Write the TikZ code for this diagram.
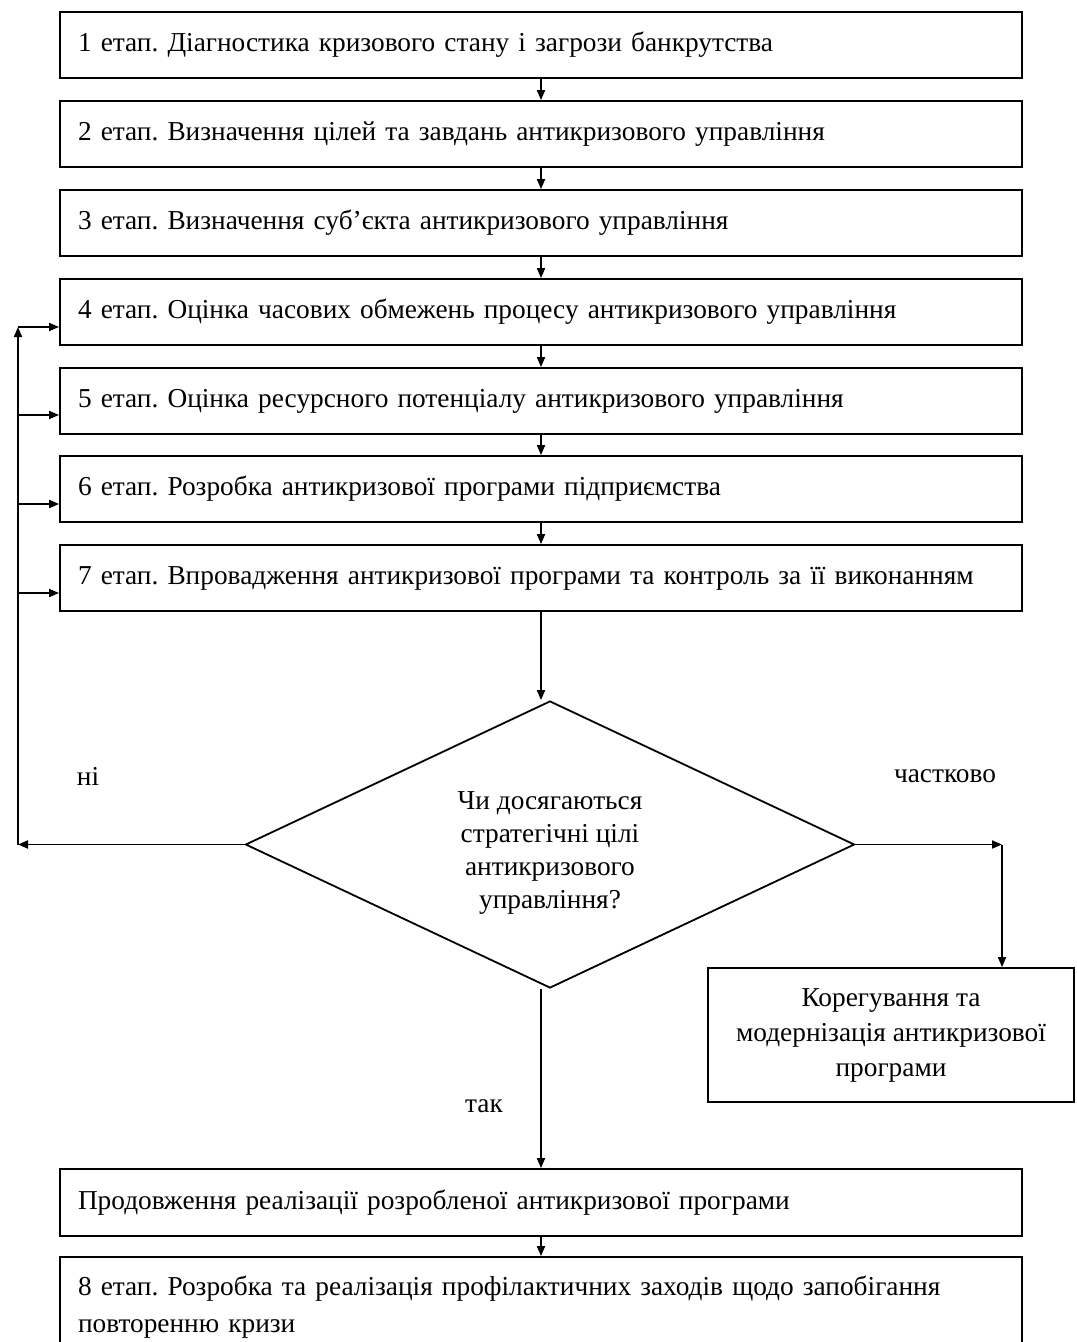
\documentclass[tikz,border=0pt]{standalone}
\usepackage{fontspec}
\setmainfont{Liberation Serif}
\usetikzlibrary{arrows.meta,shapes.geometric}
\frenchspacing
\begin{document}
\begin{tikzpicture}[x=0.75pt,y=-0.75pt,
  every node/.style={font=\fontsize{20.5}{24.75}\selectfont},
  stagebox/.style={draw, line width=1.35pt, minimum height=49.5pt, text width=694.5pt, inner xsep=13.5pt, align=left},
  conn/.style={line width=1.35pt, -{Triangle[length=7.5pt,width=6pt]}},
  lbl/.style={inner sep=0pt}]
\useasboundingbox (0,0) rectangle (1076,1342);
\node[stagebox] (b1) at (541,45) {1 етап. Діагностика кризового стану і загрози банкрутства};
\node[stagebox] (b2) at (541,134) {2 етап. Визначення цілей та завдань антикризового управління};
\node[stagebox] (b3) at (541,223) {3 етап. Визначення суб'єкта антикризового управління};
\node[stagebox] (b4) at (541,312) {4 етап. Оцінка часових обмежень процесу антикризового управління};
\node[stagebox] (b5) at (541,401) {5 етап. Оцінка ресурсного потенціалу антикризового управління};
\node[stagebox] (b6) at (541,489) {6 етап. Розробка антикризової програми підприємства};
\node[stagebox] (b7) at (541,578) {7 етап. Впровадження антикризової програми та контроль за її виконанням};
\node[draw, diamond, line width=1.35pt, minimum width=456.75pt, minimum height=215.25pt, inner sep=0pt] (dia) at (550,844.5) {};
\node[lbl, align=center] (dtext) at (550,853) {Чи досягаються\\стратегічні цілі\\антикризового\\управління?};
\node[draw, line width=1.35pt, minimum width=274.5pt, minimum height=100.5pt, align=center, font=\fontsize{20.5}{26.25}\selectfont] (corr) at (891,1035) {Корегування та\\модернізація антикризової\\програми};
\node[stagebox, minimum height=50.25pt] (prod) at (541,1202.5) {Продовження реалізації розробленої антикризової програми};
\node[stagebox, minimum height=75pt, font=\fontsize{20.5}{27.75}\selectfont] (b8) at (541,1307) {8 етап. Розробка та реалізація профілактичних заходів щодо запобігання\\повторенню кризи\\[16pt]};
\node[lbl] (ni) at (88,776) {ні};
\node[lbl] (chast) at (945,776) {частково};
\node[lbl] (tak) at (484,1106) {так};
\coordinate (lc) at (18,844.5);
\coordinate (ltop) at (18,327);
\coordinate (rc) at (1002,844.5);
\draw[conn] (b1.south) -- (b2.north);
\draw[conn] (b2.south) -- (b3.north);
\draw[conn] (b3.south) -- (b4.north);
\draw[conn] (b4.south) -- (b5.north);
\draw[conn] (b5.south) -- (b6.north);
\draw[conn] (b6.south) -- (b7.north);
\draw[conn] (b7.south) -- (b7.south |- dia.north);
\draw[conn] (b7.south |- dia.south) -- (prod.north);
\draw[conn] (prod.south) -- (b8.north);
\draw[conn] (dia.west) -- (lc);
\draw[conn] (lc) -- (ltop);
\draw[conn] (ltop) -- (ltop -| b4.west);
\draw[conn] (ltop |- 0,415) -- (b5.west |- 0,415);
\draw[conn] (ltop |- 0,504) -- (b6.west |- 0,504);
\draw[conn] (ltop |- 0,593) -- (b7.west |- 0,593);
\draw[conn] (dia.east) -- (rc);
\draw[conn] (rc) -- (rc |- corr.north);
\end{tikzpicture}
\end{document}
